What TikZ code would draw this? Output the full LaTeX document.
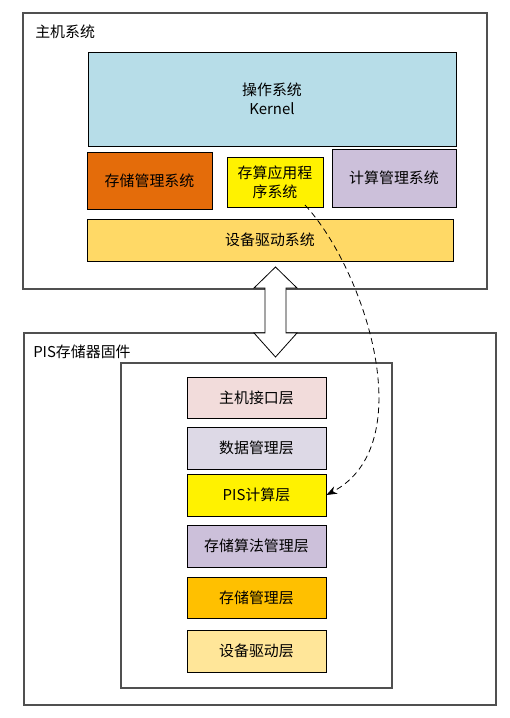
\documentclass[tikz,border=0pt]{standalone}
\usepackage{fontspec}
\setmainfont{Noto Sans CJK SC}
\usetikzlibrary{arrows.meta}
\definecolor{osblue}{HTML}{B7DDE8}
\definecolor{storeorange}{HTML}{E46C0A}
\definecolor{lilac}{HTML}{CCC0DA}
\definecolor{drvgold}{HTML}{FFD966}
\definecolor{pinkish}{HTML}{F2DCDB}
\definecolor{lavender}{HTML}{DDD9E6}
\definecolor{amber}{HTML}{FFC000}
\definecolor{paleyellow}{HTML}{FFE699}
\definecolor{framegray}{HTML}{505050}
\tikzset{
  frame/.style={draw=framegray, line width=1pt},
  blk/.style={draw=black, line width=0.6pt, font=\fontsize{11.2pt}{14pt}\selectfont, align=center, inner sep=0pt},
  lbl/.style={anchor=west, inner sep=0pt, font=\fontsize{11.2pt}{14pt}\selectfont},
}
\begin{document}
\begin{tikzpicture}[x=0.75pt,y=-0.75pt]
\useasboundingbox (0,0) rectangle (510,718);
% outer frames
\draw[frame] (23,13) rectangle (487,289);
\node[lbl] (hosttitle) at (35,32) {主机系统};
\draw[frame] (24,333) rectangle (496,705);
\node[lbl] (pistitle) at (33,352) {PIS存储器固件};
\draw[frame, line width=0.8pt] (121,363) rectangle (392,688);
% host blocks
\node[blk, fill=osblue, minimum width=368*0.75pt, minimum height=94*0.75pt] (os) at (272,99) {操作系统\\Kernel};
\node[blk, fill=storeorange, minimum width=125*0.75pt, minimum height=57*0.75pt] (sms) at (149.5,180.5) {存储管理系统};
\node[blk, fill=yellow, minimum width=96*0.75pt, minimum height=50*0.75pt] (app) at (275,182) {存算应用程\\序系统};
\node[blk, fill=lilac, minimum width=124*0.75pt, minimum height=58*0.75pt] (cms) at (394,178) {计算管理系统};
\node[blk, fill=drvgold, minimum width=366*0.75pt, minimum height=42*0.75pt] (drv) at (270,240) {设备驱动系统};
% PIS layers
\node[blk, fill=pinkish, minimum width=139*0.75pt, minimum height=41*0.75pt] (l1) at (256.5,397.5) {主机接口层};
\node[blk, fill=lavender, minimum width=139*0.75pt, minimum height=42*0.75pt] (l2) at (256.5,448) {数据管理层};
\node[blk, fill=yellow, minimum width=139*0.75pt, minimum height=42*0.75pt] (l3) at (256.5,495) {PIS计算层};
\node[blk, fill=lilac, minimum width=139*0.75pt, minimum height=42*0.75pt] (l4) at (256.5,546) {存储算法管理层};
\node[blk, fill=amber, minimum width=139*0.75pt, minimum height=41*0.75pt] (l5) at (256.5,597.5) {存储管理层};
\node[blk, fill=paleyellow, minimum width=139*0.75pt, minimum height=42*0.75pt] (l6) at (256.5,651) {设备驱动层};
% double arrow between host and PIS
\draw[fill=white, draw=black, line width=0.6pt]
  (275.5,267) -- (297,288) -- (286,288) -- (286,333) -- (297,333) -- (275.5,357)
  -- (254,333) -- (265,333) -- (265,288) -- (254,288) -- cycle;
% dashed curve
\coordinate (cstart) at (305,205);
\draw[dashed, dash pattern=on 4.5pt off 3pt, line width=0.6pt, -{Stealth[length=8pt,width=6pt]}]
  (cstart) .. controls (365,270) and (422,445) .. (l3.east);
\end{tikzpicture}
\end{document}
